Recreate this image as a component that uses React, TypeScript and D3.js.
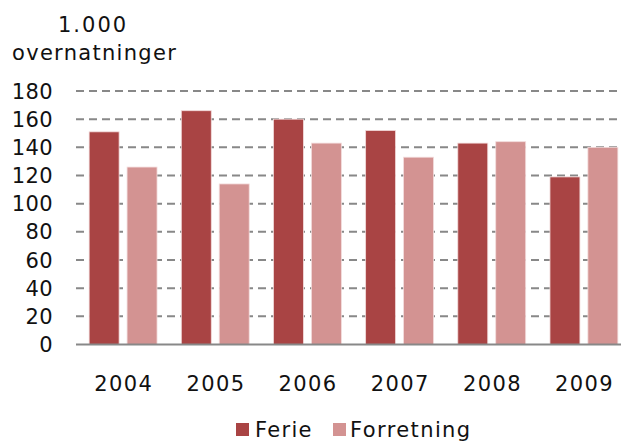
import React from "react";
import * as d3 from "d3";

const years = ["2004", "2005", "2006", "2007", "2008", "2009"];
const ferie = [151, 166, 160, 152, 143, 119];
const forretning = [126, 114, 143, 133, 144, 140];
const yTicks = [0, 20, 40, 60, 80, 100, 120, 140, 160, 180];
const seriesNames = ["Ferie", "Forretning"];
const colors = ["#A94444", "#D39392"];

export default function App() {
  const W = 621, H = 441;
  const font = "'DejaVu Sans', Verdana, sans-serif";
  const x0 = d3.scaleBand().domain(years).range([77, 630]).paddingInner(0).paddingOuter(0);
  const x1 = d3.scaleBand().domain(seriesNames).range([0, x0.bandwidth()]).paddingInner(0.21).paddingOuter(0.32);
  const y = d3.scaleLinear().domain([0, 180]).range([344.5, 91]);
  const data = [ferie, forretning];
  return (
    <svg width={W} height={H} style={{ position: "absolute", left: 0, top: 0, background: "#fff" }}>
      <text x={58} y={32} fontFamily={font} fontSize={21} fill="#111" letterSpacing={2}>1.000</text>
      <text x={12} y={60} fontFamily={font} fontSize={21} fill="#111" letterSpacing={1.3}>overnatninger</text>
      {yTicks.map((t) => (
        <g key={t}>
          {t > 0 && (
            <line x1={76} x2={W} y1={y(t)} y2={y(t)} stroke="#888" strokeWidth={2} strokeDasharray="8,5" />
          )}
          <text x={53} y={y(t)} dy="0.36em" fontFamily={font} fontSize={21} textAnchor="end" fill="#111" letterSpacing={0.4}>{t}</text>
        </g>
      ))}
      {years.map((yr, i) => (
        <g key={yr} transform={`translate(${x0(yr)},0)`}>
          {seriesNames.map((s, j) => (
            <rect key={s} x={x1(s)} y={y(data[j][i])} width={x1.bandwidth()} height={y(0) - y(data[j][i])}
              fill={colors[j]} stroke="#F3DCDC" strokeWidth={0.8} />
          ))}
          <text x={x0.bandwidth() / 2 + 0.7} y={391} fontFamily={font} fontSize={21} textAnchor="middle" fill="#111" letterSpacing={1.4}>{yr}</text>
        </g>
      ))}
      <line x1={76} x2={W} y1={y(0)} y2={y(0)} stroke="#888" strokeWidth={2} />
      <rect x={236} y={423} width={13} height={13} fill={colors[0]} />
      <text x={255} y={437} fontFamily={font} fontSize={21} fill="#111" letterSpacing={1.3}>Ferie</text>
      <rect x={333} y={423} width={13} height={13} fill={colors[1]} />
      <text x={350} y={437} fontFamily={font} fontSize={21} fill="#111" letterSpacing={1.4}>Forretning</text>
    </svg>
  );
}
